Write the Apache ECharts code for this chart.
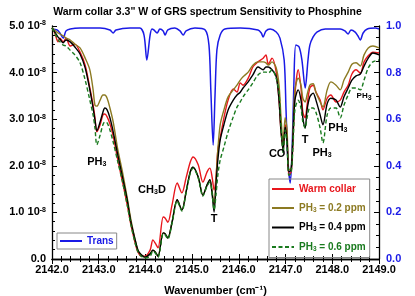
<!DOCTYPE html>
<html><head><meta charset="utf-8">
<script src="https://cdn.jsdelivr.net/npm/echarts@6/dist/echarts.min.js"></script>
<style>html,body{margin:0;padding:0;background:#fff}#c{width:415px;height:296px}</style>
</head><body><div id="c"></div>
<script>
// Wavenumber grid (cm^-1) shared by the radiance spectra
const wavenumber = [2142.00,2142.06,2142.13,2142.17,2142.24,2142.30,2142.39,2142.49,2142.60,2142.71,2142.81,2142.88,2142.92,2142.96,2143.03,2143.09,2143.13,2143.18,2143.24,2143.31,2143.41,2143.50,2143.61,2143.69,2143.78,2143.84,2143.91,2143.99,2144.10,2144.16,2144.21,2144.27,2144.38,2144.42,2144.48,2144.57,2144.68,2144.78,2144.87,2144.96,2145.02,2145.13,2145.23,2145.32,2145.38,2145.43,2145.47,2145.51,2145.55,2145.60,2145.68,2145.77,2145.88,2145.96,2146.03,2146.09,2146.20,2146.30,2146.41,2146.52,2146.58,2146.63,2146.71,2146.80,2146.86,2146.90,2146.95,2146.99,2147.03,2147.07,2147.12,2147.16,2147.20,2147.27,2147.33,2147.37,2147.42,2147.46,2147.52,2147.59,2147.65,2147.74,2147.80,2147.89,2147.97,2148.08,2148.17,2148.25,2148.34,2148.42,2148.51,2148.60,2148.68,2148.77,2148.87,2149.00];
// Radiance in units of 1e-8 Watt cm^-2 sr^-1 / cm^-1
const warmCollar = [4.96,4.85,4.66,4.74,4.66,4.74,4.57,4.61,4.44,4.16,3.67,3.30,3.03,2.73,2.88,3.09,3.11,3.05,2.90,2.64,2.12,1.70,1.16,0.73,0.34,0.15,0.06,0.06,0.19,0.41,0.34,0.24,0.90,0.88,0.79,1.16,1.63,1.42,1.74,2.08,2.19,2.02,1.65,1.87,1.95,1.74,1.48,1.74,2.34,2.60,3.03,3.41,3.65,3.58,3.78,3.73,3.88,4.12,4.23,4.31,4.38,4.18,4.31,4.01,3.41,2.77,2.34,2.88,2.66,1.80,1.87,2.55,3.52,4.06,3.67,3.15,3.03,3.30,3.67,3.73,3.58,3.41,3.20,3.45,3.52,3.37,3.41,3.58,3.73,3.97,4.06,3.99,4.23,4.36,4.44,4.42];
const ph3_02 = [4.96,4.91,4.85,4.83,4.79,4.74,4.70,4.61,4.53,4.31,4.06,3.63,3.30,3.28,3.41,3.52,3.52,3.45,3.24,2.94,2.34,1.91,1.31,0.84,0.41,0.19,0.09,0.04,0.11,0.19,0.15,0.06,0.56,0.54,0.45,0.79,1.27,1.05,1.44,1.87,1.97,1.76,1.37,1.59,1.70,1.44,1.16,1.70,2.34,2.88,3.20,3.48,3.63,3.73,3.84,3.91,4.01,4.16,4.23,4.23,4.21,4.16,4.23,4.10,3.73,3.09,2.45,3.03,2.81,1.91,1.95,2.77,3.63,3.88,3.73,3.45,3.37,3.52,3.73,3.76,3.58,3.37,3.26,3.63,3.80,3.73,3.63,3.84,4.01,4.18,4.21,4.14,4.38,4.53,4.57,4.53];
const ph3_04 = [4.96,4.87,4.76,4.72,4.64,4.70,4.66,4.55,4.40,4.10,3.63,3.24,2.98,2.75,2.94,3.15,3.24,3.20,3.03,2.73,2.23,1.80,1.27,0.79,0.41,0.19,0.09,0.04,0.11,0.19,0.15,0.06,0.56,0.54,0.45,0.79,1.27,1.05,1.44,1.87,1.97,1.76,1.37,1.59,1.70,1.37,1.01,1.59,2.12,2.55,2.88,3.20,3.41,3.52,3.58,3.67,3.80,3.95,4.12,4.06,4.12,4.12,4.06,3.91,3.41,2.77,2.34,2.83,2.55,1.87,1.91,2.66,3.41,3.63,3.41,3.03,2.81,3.20,3.48,3.56,3.41,3.09,2.88,3.33,3.45,3.41,3.26,3.48,3.67,3.84,3.93,3.97,4.14,4.31,4.42,4.38];
const ph3_06 = [4.96,4.85,4.70,4.66,4.59,4.57,4.48,4.38,4.21,3.84,3.41,3.09,2.81,2.45,2.66,2.88,2.94,2.92,2.77,2.51,2.08,1.70,1.16,0.73,0.34,0.15,0.06,0.02,0.06,0.17,0.13,0.04,0.54,0.52,0.43,0.77,1.24,1.03,1.42,1.85,1.95,1.74,1.35,1.57,1.65,1.37,1.05,1.37,1.80,2.12,2.40,2.73,3.05,3.26,3.37,3.48,3.63,3.78,3.95,4.01,4.01,3.99,4.06,3.88,3.56,2.88,2.27,2.77,2.45,1.80,1.85,2.45,3.20,3.41,3.24,2.94,2.81,3.03,3.24,3.24,3.15,2.81,2.49,3.09,3.24,3.24,3.03,3.30,3.52,3.67,3.67,3.63,3.84,4.10,4.23,4.27];
// Transmittance spectrum
const transWavenumber = [2142.00,2142.11,2142.17,2142.24,2142.30,2142.39,2142.60,2143.03,2143.24,2143.31,2143.37,2143.67,2143.88,2143.97,2144.03,2144.10,2144.14,2144.18,2144.25,2144.31,2144.38,2144.42,2144.48,2144.63,2144.74,2144.81,2144.87,2145.06,2145.28,2145.36,2145.40,2145.45,2145.49,2145.53,2145.60,2145.70,2146.03,2146.41,2146.48,2146.52,2146.58,2146.67,2146.80,2146.88,2146.97,2147.01,2147.05,2147.10,2147.14,2147.18,2147.22,2147.29,2147.35,2147.42,2147.48,2147.52,2147.59,2147.67,2147.85,2148.17,2148.27,2148.34,2148.40,2148.49,2148.55,2148.60,2148.66,2148.75,2148.92,2149.00];
const transmittance = [0.987,0.983,0.970,0.948,0.979,0.987,0.991,0.991,0.983,0.970,0.983,0.991,0.991,0.961,0.854,0.961,0.987,0.983,0.970,0.987,0.979,0.961,0.983,0.991,0.979,0.961,0.979,0.991,0.983,0.918,0.725,0.489,0.704,0.897,0.961,0.987,0.991,0.983,0.970,0.953,0.979,0.987,0.974,0.948,0.854,0.639,0.425,0.326,0.468,0.768,0.918,0.910,0.854,0.734,0.854,0.918,0.953,0.974,0.987,0.987,0.979,0.966,0.983,0.974,0.957,0.940,0.970,0.987,0.991,0.987];
// Line annotations
const annLabels = ['PH{s|3}','CH{s|3}D','T','CO','T','PH{s|3}','PH{s|3}','PH{s|3}'];
const annWavenumber = [2142.96,2144.14,2145.47,2146.82,2147.42,2147.78,2148.12,2148.68];
const annRadiance = [2.08,1.48,0.85,2.25,2.55,2.27,2.81,3.50];
const annSmall = [false,false,false,false,false,false,false,true];

const seriesNames = ['Warm collar','PH3 = 0.2 ppm','PH3 = 0.4 ppm','PH3 = 0.6 ppm'];
const seriesValues = [warmCollar, ph3_02, ph3_04, ph3_06];
const seriesColors = ['#e8161c','#8c7a22','#000000','#197a1e'];
const transColor = '#1a1ae6';

const FONT = "'Liberation Sans', Arial, Helvetica, sans-serif";
const chart = echarts.init(document.getElementById('c'), null, {renderer:'canvas'});
const pair = (xs, ys) => xs.map((x,i)=>[x, ys[i]]);
const subRich = {
  s:{fontSize:7,fontWeight:'bold',fontFamily:FONT,verticalAlign:'bottom',padding:[4,0,0,0]},
  sup:{fontSize:7,fontWeight:'bold',fontFamily:FONT,verticalAlign:'top',padding:[0,0,5,0]}
};
const axisLine = {show:true,lineStyle:{color:'#000',width:1.3}};
const series = [{
  name:'Trans', type:'line', xAxisIndex:0, yAxisIndex:1, data:pair(transWavenumber, transmittance),
  symbol:'none', smooth:0.3, lineStyle:{color:transColor,width:1.5}, itemStyle:{color:transColor}, z:2
}];
seriesNames.forEach((n,k)=>{
  series.push({name:n,type:'line',xAxisIndex:0,yAxisIndex:0,data:pair(wavenumber, seriesValues[k]),
    symbol:'none',smooth:0.3,
    lineStyle:{color:seriesColors[k],width:1.4,type:k===3?[4,2.5]:'solid'},
    itemStyle:{color:seriesColors[k]},z:3+k});
});
series.push({
  name:'annot',type:'scatter',xAxisIndex:0,yAxisIndex:0,symbol:'circle',symbolSize:1,silent:true,z:10,
  itemStyle:{color:'rgba(0,0,0,0)'},
  data:annLabels.map((t,i)=>({value:[annWavenumber[i],annRadiance[i]],name:t,
    label:{fontSize:annSmall[i]?8:11}})),
  label:{show:true,position:[0.5,0.5],align:'center',verticalAlign:'middle',formatter:p=>p.name,color:'#000',opacity:1,fontWeight:'bold',fontFamily:FONT,fontSize:11,
    rich:{s:{fontSize:7,fontWeight:'bold',fontFamily:FONT,color:'#000',verticalAlign:'bottom',padding:[4,0,0,0]}}}
});
const legendFmt = n => n.replace('PH3','PH{s|3}');
const legendRich = {
  s:{fontSize:6.5,fontWeight:'bold',fontFamily:FONT,verticalAlign:'bottom',padding:[4,0,0,0]}
};
chart.setOption({
  animation:false,
  title:{text:'Warm collar 3.3" W of GRS spectrum Sensitivity to Phosphine',left:'center',top:2,
    textStyle:{fontSize:10.5,fontWeight:'bold',fontFamily:FONT,color:'#000'}},
  grid:{left:52,right:36,top:26,bottom:37,containLabel:false,outerBoundsMode:'none'},
  legend:[{
    orient:'vertical',left:269,top:179,itemWidth:22,itemHeight:10,itemGap:9,
    padding:[5,4,5,2],borderColor:'#888',borderWidth:1,
    itemStyle:{opacity:0},
    data:seriesNames.map((n,k)=>({name:n,textStyle:{color:seriesColors[k]}})),
    formatter:legendFmt,
    textStyle:{fontSize:10,fontWeight:'bold',fontFamily:FONT,rich:legendRich}
  },{
    orient:'vertical',left:57,top:233,itemWidth:22,itemHeight:10,
    padding:[3,3,3,2],borderColor:'#888',borderWidth:1,
    itemStyle:{opacity:0},
    data:[{name:'Trans',textStyle:{color:transColor}}],
    textStyle:{fontSize:10,fontWeight:'bold',fontFamily:FONT}
  }],
  xAxis:[{
    type:'value',min:2142,max:2149,interval:1,position:'bottom',
    name:'Wavenumber (cm⁻¹)',nameLocation:'middle',nameGap:26,
    nameTextStyle:{fontSize:11,fontWeight:'bold',fontFamily:FONT,color:'#000'},
    axisLine:axisLine,axisTick:{inside:true,length:5,lineStyle:{color:'#000',width:1}},
    minorTick:{show:true,splitNumber:5,length:3,lineStyle:{color:'#000',width:1}},
    axisLabel:{margin:5,formatter:v=>v.toFixed(1),fontSize:11,fontWeight:'bold',fontFamily:FONT,color:'#000'},
    splitLine:{show:false}
  },{
    type:'value',min:2142,max:2149,interval:1,position:'top',
    axisLine:axisLine,axisTick:{inside:true,length:5,lineStyle:{color:'#000',width:1}},
    minorTick:{show:true,splitNumber:5,length:3,lineStyle:{color:'#000',width:1}},
    axisLabel:{show:false},splitLine:{show:false}
  }],
  yAxis:[{
    type:'value',min:0,max:5,interval:1,position:'left',
    name:'Radiance (Watt cm⁻² sr⁻¹ / cm⁻¹)',nameLocation:'middle',nameGap:44,nameRotate:90,
    nameTextStyle:{fontSize:11,fontWeight:'bold',fontFamily:FONT,color:'#000'},
    axisLine:axisLine,axisTick:{inside:true,length:5,lineStyle:{color:'#000',width:1}},
    minorTick:{show:true,splitNumber:5,length:3,lineStyle:{color:'#000',width:1}},
    axisLabel:{margin:6,formatter:v=>v===0?'0.0':v.toFixed(1)+' 10{sup|-8}',fontSize:11,fontWeight:'bold',fontFamily:FONT,color:'#000',rich:subRich},
    splitLine:{show:false}
  },{
    type:'value',min:0,max:1,interval:0.2,position:'right',
    name:'Transmittance',nameLocation:'middle',nameGap:27,nameRotate:-90,
    nameTextStyle:{fontSize:11,fontWeight:'bold',fontFamily:FONT,color:transColor},
    axisLine:axisLine,axisTick:{inside:true,length:5,lineStyle:{color:'#000',width:1}},
    minorTick:{show:true,splitNumber:4,length:3,lineStyle:{color:'#000',width:1}},
    axisLabel:{margin:7,formatter:v=>v.toFixed(1),fontSize:11,fontWeight:'bold',fontFamily:FONT,color:transColor},
    splitLine:{show:false}
  }],
  series:series
});
</script></body></html>
